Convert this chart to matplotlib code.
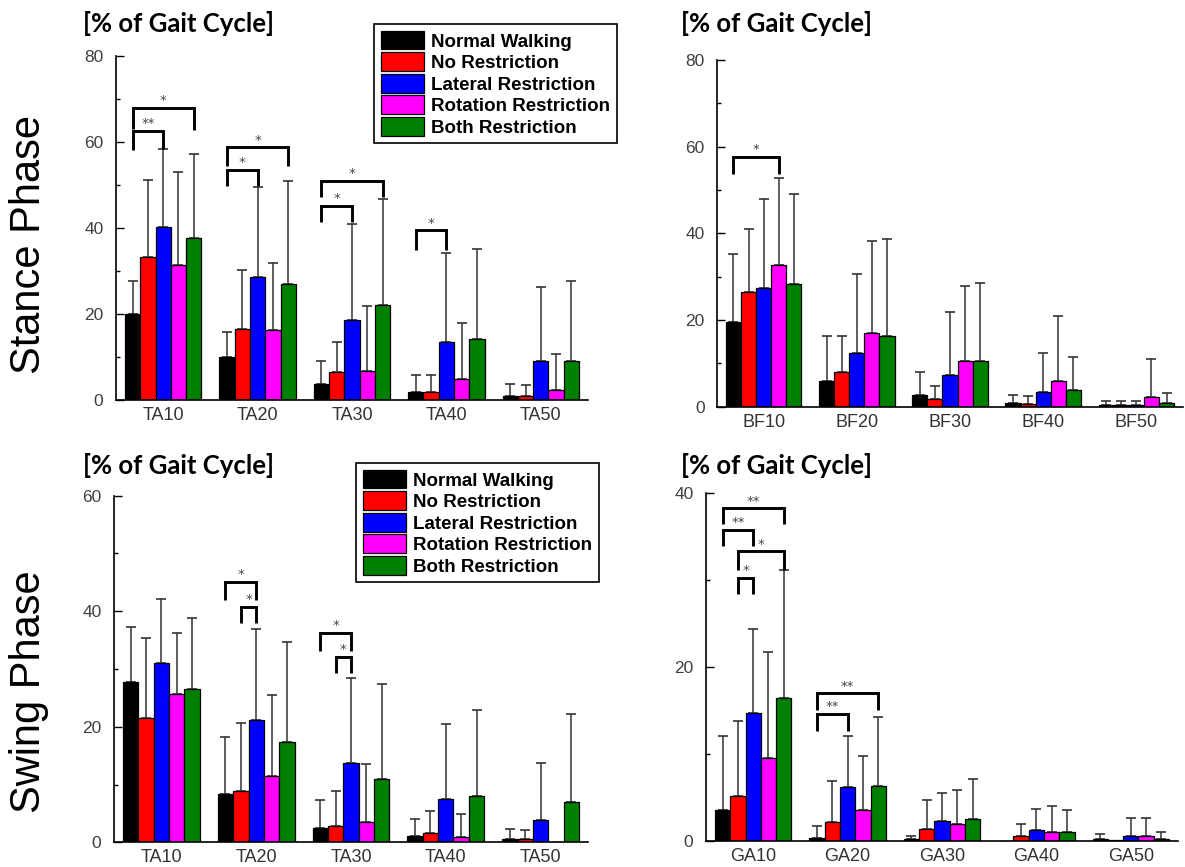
import numpy as np
import matplotlib
matplotlib.use("Agg")
import matplotlib.pyplot as plt
from matplotlib.ticker import MultipleLocator

plt.rcParams["font.family"] = ["Liberation Sans", "DejaVu Sans"]

conditions = ["Normal Walking", "No Restriction", "Lateral Restriction",
              "Rotation Restriction", "Both Restriction"]
colors = ["#000000", "#ff0000", "#0000ff", "#ff00ff", "#008000"]

ta_labels = ["TA10", "TA20", "TA30", "TA40", "TA50"]
bf_labels = ["BF10", "BF20", "BF30", "BF40", "BF50"]
ga_labels = ["GA10", "GA20", "GA30", "GA40", "GA50"]

# rows = condition (same order as `conditions`), columns = muscle window
stance_ta_mean = [[20.0, 10.0, 3.7, 1.9, 1.0],
                  [33.2, 16.5, 6.5, 1.8, 0.9],
                  [40.2, 28.5, 18.6, 13.5, 9.0],
                  [31.5, 16.2, 6.8, 4.8, 2.3],
                  [37.7, 26.9, 22.2, 14.1, 9.0]]
stance_ta_sd = [[7.7, 5.9, 5.3, 3.9, 2.7],
                [18.0, 13.7, 7.0, 4.0, 2.5],
                [18.1, 21.1, 22.3, 20.7, 17.3],
                [21.6, 15.6, 15.0, 13.1, 8.3],
                [19.6, 24.0, 24.5, 21.1, 18.7]]

stance_bf_mean = [[19.5, 5.9, 2.8, 0.8, 0.4],
                  [26.4, 8.1, 1.8, 0.7, 0.4],
                  [27.5, 12.3, 7.3, 3.5, 0.4],
                  [32.7, 17.1, 10.5, 5.9, 2.2],
                  [28.2, 16.4, 10.5, 3.8, 0.8]]
stance_bf_sd = [[15.7, 10.5, 5.3, 2.0, 1.0],
                [14.6, 8.3, 3.0, 1.8, 1.0],
                [20.4, 18.3, 14.6, 9.0, 1.0],
                [20.0, 21.2, 17.3, 15.0, 8.8],
                [20.8, 22.2, 18.0, 7.6, 2.3]]

swing_ta_mean = [[27.8, 8.4, 2.4, 1.1, 0.5],
                 [21.6, 8.9, 2.8, 1.6, 0.5],
                 [31.0, 21.1, 13.8, 7.5, 3.9],
                 [25.7, 11.4, 3.6, 1.0, 0.0],
                 [26.5, 17.4, 10.9, 8.0, 6.9]]
swing_ta_sd = [[9.5, 9.9, 4.9, 2.9, 1.8],
               [13.8, 11.7, 6.1, 3.9, 1.6],
               [11.1, 15.8, 14.6, 13.0, 9.9],
               [10.5, 14.1, 10.0, 3.9, 0.0],
               [12.3, 17.2, 16.5, 14.9, 15.3]]

swing_ga_mean = [[3.5, 0.3, 0.2, 0.0, 0.15],
                 [5.1, 2.2, 1.3, 0.5, 0.1],
                 [14.7, 6.2, 2.3, 1.2, 0.5],
                 [9.5, 3.5, 1.9, 1.0, 0.5],
                 [16.4, 6.3, 2.5, 1.0, 0.15]]
swing_ga_sd = [[8.5, 1.4, 0.3, 0.0, 0.65],
               [8.7, 4.7, 3.4, 1.4, 0.0],
               [9.7, 5.9, 3.2, 2.4, 2.1],
               [12.2, 6.2, 3.9, 3.0, 2.1],
               [14.8, 7.9, 4.6, 2.5, 0.85]]

# significance brackets: (group, bar a, bar b, top, leg end a, leg end b, stars)
stance_ta_sig = [(0, 0, 2, 62.6, 58.1, 58.3, "**"),
                 (0, 0, 4, 68.0, 63.0, 62.8, "*"),
                 (1, 0, 2, 53.6, 49.8, 49.8, "*"),
                 (1, 0, 4, 58.8, 54.4, 54.4, "*"),
                 (2, 0, 2, 45.2, 41.4, 41.4, "*"),
                 (2, 0, 4, 51.0, 47.3, 47.3, "*"),
                 (3, 0, 2, 39.5, 35.0, 35.0, "*")]
stance_bf_sig = [(0, 0, 3, 57.7, 53.8, 53.8, "*")]
swing_ta_sig = [(1, 0, 2, 45.1, 41.9, 41.9, "*"),
                (1, 1, 2, 40.8, 37.9, 37.9, "*"),
                (2, 0, 2, 36.3, 33.2, 33.2, "*"),
                (2, 1, 2, 32.1, 29.3, 29.3, "*")]
swing_ga_sig = [(0, 0, 4, 38.3, 36.5, 36.5, "**"),
                (0, 0, 2, 35.8, 33.9, 33.9, "**"),
                (0, 1, 4, 33.3, 31.2, 31.2, "*"),
                (0, 1, 2, 30.3, 28.4, 28.4, "*"),
                (1, 0, 4, 17.0, 15.0, 15.0, "**"),
                (1, 0, 2, 14.6, 12.6, 12.6, "**")]

W, H = 1185, 867
fig = plt.figure(figsize=(W / 100, H / 100), dpi=100)

bw = 0.162


def bar_x(g, k):
    return g + (k - 2) * bw


def panel(box, labels, mean, sd, ymax, sig):
    left, top, width, bottom = box
    ax = fig.add_axes([left / W, 1 - bottom / H, width / W, (bottom - top) / H])
    mean = np.array(mean)
    sd = np.array(sd)
    x = np.arange(len(labels))
    handles = []
    for k in range(len(conditions)):
        xs = x + (k - 2) * bw
        ok = sd[k] > 0
        ax.errorbar(xs[ok], mean[k][ok], yerr=[np.zeros(ok.sum()), sd[k][ok]],
                    fmt="none", ecolor="#333333", elinewidth=1.1, capsize=3.8,
                    capthick=1.2, zorder=1)
        h = ax.bar(xs, mean[k], width=bw, color=colors[k], edgecolor="black",
                   linewidth=0.9, label=conditions[k], zorder=2)
        handles.append(h)
    for g, a, b, yt, la, lb, stars in sig:
        xa, xb = bar_x(g, a), bar_x(g, b)
        ax.plot([xa, xa, xb, xb], [la, yt, yt, lb], color="black", lw=2.1,
                solid_joinstyle="miter", solid_capstyle="butt", zorder=3)
        ax.annotate(stars, ((xa + xb) / 2, yt), xytext=(0, 2.5),
                    textcoords="offset points", ha="center", va="baseline",
                    fontsize=9.5, color="#444444", family="DejaVu Sans")
    ax.set_xlim(-0.5, 4.5)
    ax.set_ylim(0, ymax)
    ax.set_xticks(x)
    ax.set_xticklabels(labels)
    ax.yaxis.set_major_locator(MultipleLocator(20))
    ax.yaxis.set_minor_locator(MultipleLocator(10))
    ax.tick_params(axis="x", length=0, pad=5, labelsize=13, labelcolor="#333333")
    ax.tick_params(axis="y", which="major", direction="in", length=6, width=1,
                   pad=9, labelsize=12.5, labelcolor="#404040")
    ax.tick_params(axis="y", which="minor", direction="in", length=3, width=1)
    for s in ["top", "right"]:
        ax.spines[s].set_visible(False)
    for s in ["left", "bottom"]:
        ax.spines[s].set_linewidth(1.2)
    return ax, handles


ax1, hs = panel((116, 56, 472, 400), ta_labels, stance_ta_mean, stance_ta_sd, 80, stance_ta_sig)
ax2, _ = panel((717, 60, 466, 406.7), bf_labels, stance_bf_mean, stance_bf_sd, 80, stance_bf_sig)
ax3, _ = panel((114, 495.7, 474, 842.3), ta_labels, swing_ta_mean, swing_ta_sd, 60, swing_ta_sig)
ax4, _ = panel((706, 493.3, 472, 840.7), ga_labels, swing_ga_mean, swing_ga_sd, 40, swing_ga_sig)

for ax, (lx, ly) in [(ax1, (374, 24.3)), (ax3, (356, 463.3))]:
    leg = ax.legend(handles=hs, loc="upper left", bbox_to_anchor=(lx / W, 1 - ly / H),
                    bbox_transform=fig.transFigure, borderaxespad=0,
                    prop={"weight": "bold", "size": 13.5}, handlelength=2.3,
                    handleheight=1.15, handletextpad=0.4, labelspacing=0.1,
                    borderpad=0.35, fancybox=False, framealpha=1, edgecolor="black")
    leg.get_frame().set_linewidth(1.2)
    leg.set_zorder(10)

for tx, ty in [(83, 23), (681, 24), (83, 466), (681, 466)]:
    fig.text(tx / W, 1 - ty / H, "[% of Gait Cycle]", family=["Lato", "DejaVu Sans"],
             weight="bold", fontsize=18.5, ha="left", va="center")

fig.text(29 / W, 1 - 245 / H, "Stance Phase", rotation=90, fontsize=30,
         ha="center", va="center")
fig.text(29 / W, 1 - 692 / H, "Swing Phase", rotation=90, fontsize=30,
         ha="center", va="center")

fig.savefig("out.png", dpi=100)
